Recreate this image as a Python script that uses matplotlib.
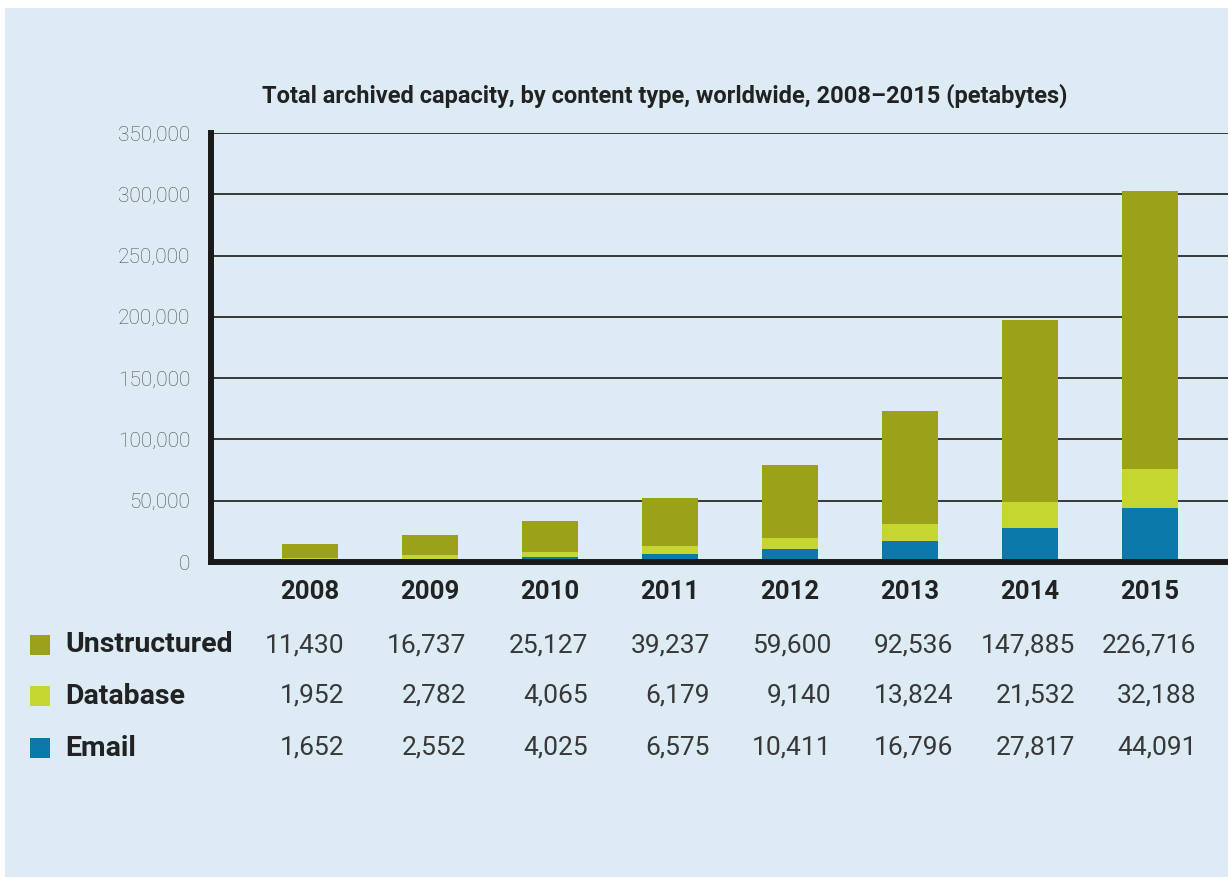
import matplotlib.pyplot as plt
import matplotlib.transforms as mtransforms
from matplotlib.patches import Rectangle

years = ["2008", "2009", "2010", "2011", "2012", "2013", "2014", "2015"]
unstructured = [11430, 16737, 25127, 39237, 59600, 92536, 147885, 226716]
database = [1952, 2782, 4065, 6179, 9140, 13824, 21532, 32188]
email = [1652, 2552, 4025, 6575, 10411, 16796, 27817, 44091]

series_names = ["Unstructured", "Database", "Email"]
series_colors = ["#9ba21a", "#c5d630", "#0b7aa8"]
y_ticks = [0, 50000, 100000, 150000, 200000, 250000, 300000, 350000]

FONT = ["Roboto", "DejaVu Sans"]
BG = "#dcebf4"

fig = plt.figure(figsize=(12.28, 8.77), dpi=100)
fig.patch.set_facecolor("white")
# light blue panel behind everything
fig.patches.append(Rectangle((5 / 1228, 0), 1, 1 - 8 / 877, transform=fig.transFigure,
                             facecolor=BG, edgecolor="none", zorder=-5))

ax = fig.add_axes([211 / 1228, 1 - 562 / 877, 1017 / 1228, (562 - 133) / 877])
ax.set_facecolor("none")
ax.set_zorder(2)

x = list(range(len(years)))
w = 0.46
bottom2 = email
bottom3 = [e + d for e, d in zip(email, database)]
ax.bar(x, email, width=w, color=series_colors[2], zorder=3)
ax.bar(x, database, width=w, bottom=bottom2, color=series_colors[1], zorder=3)
ax.bar(x, unstructured, width=w, bottom=bottom3, color=series_colors[0], zorder=3)

ax.set_xlim(-0.825, 7.65)
ax.set_ylim(0, 350000)
ax.set_yticks(y_ticks)
ax.set_yticklabels([f"{v:,}" for v in y_ticks], family=FONT, fontsize=15,
                   fontweight="light", color="#505050")
ax.tick_params(axis="y", length=0, pad=15)
ax.set_xticks([])
for v in y_ticks[1:]:
    ax.axhline(v, color="#1a1a1a", lw=1.2, zorder=1)

for s in ["top", "right"]:
    ax.spines[s].set_visible(False)
for s in ["left", "bottom"]:
    ax.spines[s].set_linewidth(4.3)
    ax.spines[s].set_color("#1a1a1a")
    ax.spines[s].set_zorder(4)

fig.text(665 / 1228, 1 - 96 / 877, "Total archived capacity, by content type, worldwide, 2008\u20132015 (petabytes)",
         ha="center", va="center", family=FONT, fontsize=17, fontweight="bold", color="#222222")

# year header and value table under the axis
trans = mtransforms.blended_transform_factory(ax.transData, fig.transFigure)
for i, yr in enumerate(years):
    fig.text(i, 1 - 592 / 877, yr, transform=trans, ha="center", va="center",
             family=FONT, fontsize=18.5, fontweight="bold", color="#222222")

rows = [unstructured, database, email]
row_y = [645, 696, 748]
for name, color, vals, py in zip(series_names, series_colors, rows, row_y):
    yf = 1 - py / 877
    fig.patches.append(Rectangle((30 / 1228, yf - 10 / 877), 20 / 1228, 20 / 877,
                                 transform=fig.transFigure, facecolor=color, edgecolor="none"))
    fig.text(65 / 1228, yf, name, ha="left", va="center", family=FONT,
             fontsize=20.5, fontweight="bold", color="#222222")
    for i, v in enumerate(vals):
        # number columns are spaced a touch wider than the bars
        fig.text(i * 1.014 + 0.29, yf, f"{v:,}", transform=trans, ha="right", va="center",
                 family=FONT, fontsize=19, color="#383838")

fig.savefig("out.png", dpi=100)
